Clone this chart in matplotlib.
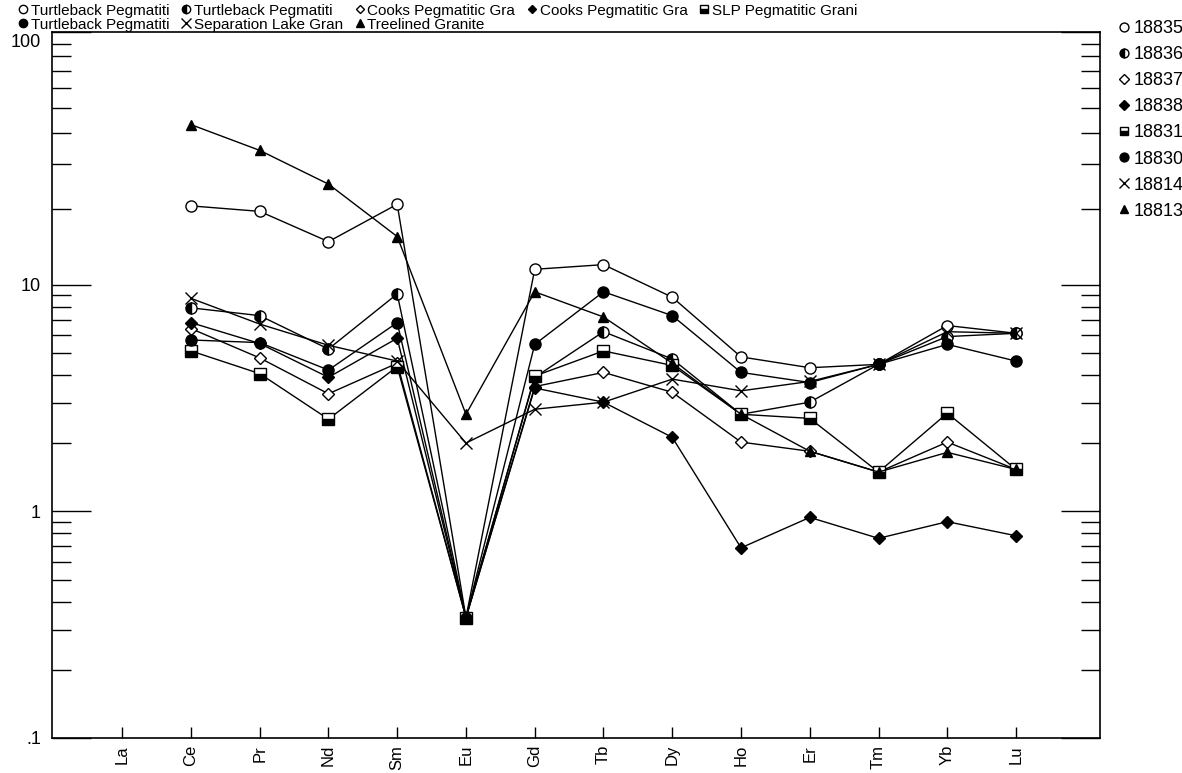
import matplotlib
matplotlib.use("Agg")
import matplotlib.pyplot as plt
import matplotlib.transforms as mtransforms
import numpy as np
from matplotlib.lines import Line2D
from matplotlib.ticker import FixedLocator, NullFormatter

plt.rcParams['font.family'] = ['Liberation Sans', 'DejaVu Sans']

elements = ['La', 'Ce', 'Pr', 'Nd', 'Sm', 'Eu', 'Gd', 'Tb', 'Dy', 'Ho', 'Er', 'Tm', 'Yb', 'Lu']

samples = ['18835', '18836', '18837', '18838', '18831', '18830', '18814', '18813']
rocks = ['Turtleback Pegmatiti', 'Turtleback Pegmatiti', 'Cooks Pegmatitic Gra',
         'Cooks Pegmatitic Gra', 'SLP Pegmatitic Grani', 'Turtleback Pegmatiti',
         'Separation Lake Gran', 'Treelined Granite']

# Ce .. Lu (no La analysed)
s18835 = [20.5, 19.5, 14.8, 20.8, 0.34, 11.5, 12.0, 8.8, 4.8, 4.3, 4.45, 6.6, 6.1]
s18836 = [7.9, 7.3, 5.2, 9.1, 0.34, 3.9, 6.2, 4.7, 2.68, 3.03, 4.45, 5.9, 6.1]
s18837 = [6.4, 4.75, 3.3, 4.5, 0.34, 3.55, 4.1, 3.35, 2.02, 1.84, 1.49, 2.02, 1.53]
s18838 = [6.8, 5.5, 3.9, 5.8, 0.34, 3.5, 3.03, 2.12, 0.69, 0.94, 0.76, 0.90, 0.78]
s18831 = [5.1, 4.05, 2.55, 4.35, 0.34, 3.95, 5.1, 4.4, 2.68, 2.57, 1.49, 2.71, 1.53]
s18830 = [5.7, 5.55, 4.2, 6.8, 0.34, 5.45, 9.3, 7.3, 4.1, 3.7, 4.45, 5.45, 4.6]
s18814 = [8.7, 6.7, 5.4, 4.6, 2.0, 2.82, 3.03, 3.83, 3.4, 3.74, 4.45, 6.2, 6.1]
s18813 = [43.0, 34.0, 25.0, 15.5, 2.68, 9.3, 7.2, 4.5, 2.68, 1.84, 1.49, 1.82, 1.53]

series = [s18835, s18836, s18837, s18838, s18831, s18830, s18814, s18813]
markers = [dict(marker='o', mfc='white'),
           dict(marker='o', mfc='black', fillstyle='left', markerfacecoloralt='white'),
           dict(marker='D', mfc='white', ms=6),
           dict(marker='D', mfc='black', ms=6),
           dict(marker='s', mfc='black', fillstyle='bottom', markerfacecoloralt='white'),
           dict(marker='o', mfc='black'),
           dict(marker='x', mfc='black', ms=9, mew=1.0),
           dict(marker='^', mfc='black', ms=7)]

# the scanned axis has a slightly taller top decade (10-100)
TOP = 253.0 / 227.0

def fwd(v):
    l = np.log10(np.clip(v, 1e-300, None))
    return np.where(l > 1, 1 + (l - 1) * TOP, l)

def inv(u):
    u = np.asarray(u, dtype=float)
    return np.where(u > 1, 10 ** (1 + (u - 1) / TOP), 10 ** u)

fig = plt.figure(figsize=(11.82, 7.73), dpi=100)
ax = fig.add_axes([0.044, 0.0453, 0.8866, 0.9133])

x = np.arange(1, len(elements))
for vals, st, lab in zip(series, markers, samples):
    kw = dict(ms=8, mec='black', mew=1.0)
    kw.update(st)
    ax.plot(x, vals, color='black', lw=1.0, label=lab, **kw)

ax.set_yscale('function', functions=(fwd, inv))
ax.set_ylim(0.1, 100)
ax.set_xlim(-1.02, 14.22)

ax.yaxis.set_major_locator(FixedLocator([0.1, 1, 10, 100]))
ax.set_yticklabels(['.1', '1', '10', '100'], fontsize=13)
ax.yaxis.set_minor_locator(FixedLocator([v * d for d in (0.1, 1, 10) for v in range(2, 10)]))
ax.yaxis.set_minor_formatter(NullFormatter())
ax.tick_params(axis='y', which='major', direction='in', length=28, width=1, left=True, right=True, pad=8)
ax.tick_params(axis='y', which='minor', direction='in', length=14, width=1, left=True, right=True)

# nudge the "100" label a little down, clear of the legend's second row
top_lab = ax.get_yticklabels()[-1]
top_lab.set_transform(top_lab.get_transform() +
                      mtransforms.ScaledTranslation(0, -6 / 72, fig.dpi_scale_trans))

ax.set_xticks(np.arange(len(elements)))
ax.set_xticklabels(elements, rotation=90, fontsize=12)
ax.tick_params(axis='x', direction='in', length=8, width=1, top=False, pad=5)

for sp in ax.spines.values():
    sp.set_linewidth(1.2)

def proxy(st):
    kw = dict(ms=8, mec='black', mew=1.0)
    kw.update(st)
    return Line2D([], [], color='black', linestyle='none', **kw)

# top legend, row-major order across 5 columns
order = [0, 5, 1, 6, 2, 7, 3, 4]
fig.legend([proxy(markers[i]) for i in order], [rocks[i] for i in order],
           loc='upper left', bbox_to_anchor=(0.006, 1.009), ncol=5, frameon=False,
           fontsize=11, handlelength=0.7, handletextpad=0.15, columnspacing=0.75,
           labelspacing=0.0, borderpad=0.2, markerscale=0.75)

# right legend with sample numbers
fig.legend([proxy(m) for m in markers], samples, loc='upper left',
           bbox_to_anchor=(0.935, 0.99), frameon=False, fontsize=13,
           handlelength=0.7, handletextpad=0.15, labelspacing=0.5, borderpad=0.2,
           markerscale=0.8)

fig.savefig('out.png', dpi=100)
